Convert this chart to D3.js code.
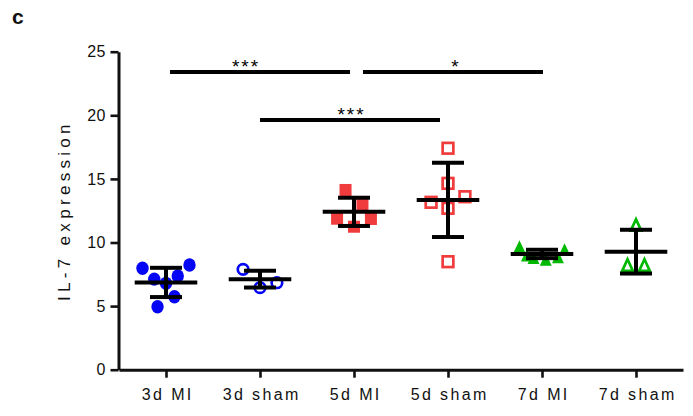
<!DOCTYPE html>
<html>
<head>
<meta charset="utf-8">
<script src="https://cdn.jsdelivr.net/npm/d3@7"></script>
<style>
  html, body { margin: 0; padding: 0; background: #fff; }
  svg { display: block; }
  text { font-family: "Liberation Sans", Arial, sans-serif; fill: #111; }
</style>
</head>
<body>
<svg id="chart" width="693" height="416"></svg>
<script>
// Groups on the x axis
const categories = ["3d MI", "3d sham", "5d MI", "5d sham", "7d MI", "7d sham"];

// Individual IL-7 expression values per group
const values3dMI   = [7.97, 8.23, 7.12, 7.37, 6.79, 5.74, 4.95];
const values3dSham = [7.89, 6.45, 6.84];
const values5dMI   = [14.13, 13.00, 11.87, 11.85, 11.24];
const values5dSham = [17.41, 14.65, 13.60, 13.16, 12.69, 8.49];
const values7dMI   = [9.69, 9.45, 9.00, 8.80, 8.65, 8.85];
const values7dSham = [11.38, 8.23, 8.23];

// Horizontal scatter of each point, as a fraction of the category step
const spread3dMI   = [-0.25, 0.25, -0.125, 0.125, 0, 0.09, -0.09];
const spread3dSham = [-0.18, 0, 0.18];
const spread5dMI   = [-0.09, 0.09, -0.18, 0.18, 0];
const spread5dSham = [0, 0, 0.18, -0.18, 0, 0];
const spread7dMI   = [-0.24, 0.24, -0.16, -0.09, 0.04, 0.17];
const spread7dSham = [0, -0.09, 0.09];

// Group mean and SD
const means = [6.86, 7.12, 12.41, 13.35, 9.10, 9.28];
const sds   = [1.15, 0.66, 1.11, 2.92, 0.33, 1.72];

// Axis ticks
const yTicks = [0, 5, 10, 15, 20, 25];

// Significance comparisons
const sigFrom   = ["3d MI", "5d MI", "3d sham"];
const sigTo     = ["5d MI", "7d MI", "5d sham"];
const sigLevel  = [23.4, 23.4, 19.63];
const sigLabel  = ["***", "*", "***"];

const groupValues = [values3dMI, values3dSham, values5dMI, values5dSham, values7dMI, values7dSham];
const groupSpread = [spread3dMI, spread3dSham, spread5dMI, spread5dSham, spread7dMI, spread7dSham];

// Marker style per group
const BLUE = "#0505f5", RED = "#f03c3c", GREEN = "#00b900";
const markerStyle = [
  { shape: "circle",   color: BLUE,  filled: true },
  { shape: "circle",   color: BLUE,  filled: false },
  { shape: "square",   color: RED,   filled: true },
  { shape: "square",   color: RED,   filled: false },
  { shape: "triangle", color: GREEN, filled: true },
  { shape: "triangle", color: GREEN, filled: false }
];

const svg = d3.select("#chart");

const x = d3.scalePoint().domain(categories).range([119, 683]).padding(0.5);
const y = d3.scaleLinear().domain([0, 25]).range([369.7, 51.7]);
const step = x.step();

// Panel letter
svg.append("text")
  .attr("x", 12).attr("y", 24)
  .style("font-size", "21px").style("font-weight", "bold")
  .text("c");

// Y axis
const yAxis = svg.append("g")
  .attr("transform", "translate(118.5,0)")
  .call(d3.axisLeft(y).tickValues(yTicks).tickSize(8).tickSizeOuter(0).tickPadding(5));
yAxis.select(".domain").attr("stroke", "#111").attr("stroke-width", 3);
yAxis.selectAll(".tick line").attr("stroke", "#111").attr("stroke-width", 2.6);
yAxis.selectAll(".tick text")
  .style("font-size", "16px").style("letter-spacing", "0.5px")
  .attr("fill", "#111").attr("dx", "0.5");

// X axis
const xAxis = svg.append("g")
  .attr("transform", `translate(0,${y(0)})`)
  .call(d3.axisBottom(x).tickSize(8).tickSizeOuter(0).tickPadding(11));
xAxis.select(".domain").attr("stroke", "#111").attr("stroke-width", 3);
xAxis.selectAll(".tick line").attr("stroke", "#111").attr("stroke-width", 2.6);
xAxis.selectAll(".tick text")
  .style("font-size", "16px").style("letter-spacing", "2.4px")
  .attr("fill", "#111").attr("dx", "1.2");

// Y axis title
svg.append("text")
  .attr("transform", `translate(70,${(y(0) + y(25)) / 2 + 2}) rotate(-90)`)
  .attr("text-anchor", "middle")
  .style("font-size", "17px").style("letter-spacing", "4.3px")
  .attr("dx", "2.15")
  .text("IL-7 expression");

// Marker drawing
function drawMarker(g, style, cx, cy) {
  const fill = style.filled ? style.color : "none";
  const stroke = style.filled ? "none" : style.color;
  const sw = style.filled ? 0 : 2.7;
  if (style.shape === "circle") {
    const rx = style.filled ? 6.2 : 5.3, ry = style.filled ? 6.7 : 5.3;
    g.append("ellipse").attr("cx", cx).attr("cy", cy).attr("rx", rx).attr("ry", ry)
      .attr("fill", fill).attr("stroke", stroke).attr("stroke-width", sw);
  } else if (style.shape === "square") {
    const s = style.filled ? 12 : 10.7;
    g.append("rect").attr("x", cx - s / 2).attr("y", cy - s / 2).attr("width", s).attr("height", s)
      .attr("fill", fill).attr("stroke", stroke).attr("stroke-width", sw);
  } else {
    const w = style.filled ? 12 : 10.5, h = style.filled ? 12.4 : 11.5;
    const p = d3.path();
    p.moveTo(cx, cy - h / 2);
    p.lineTo(cx + w / 2, cy + h / 2);
    p.lineTo(cx - w / 2, cy + h / 2);
    p.closePath();
    g.append("path").attr("d", p.toString())
      .attr("fill", fill).attr("stroke", stroke).attr("stroke-width", sw)
      .attr("stroke-linejoin", "miter");
  }
}

const pts = svg.append("g");
categories.forEach((c, i) => {
  groupValues[i].forEach((v, j) => {
    drawMarker(pts, markerStyle[i], x(c) + groupSpread[i][j] * step, y(v));
  });
});

// Mean ± SD bars
const meanHalf = 31.3, capHalf = 16, lw = 4;
const eb = svg.append("g").attr("stroke", "#000").attr("stroke-width", lw);
categories.forEach((c, i) => {
  const cx = x(c);
  const yTop = y(means[i] + sds[i]), yBot = y(means[i] - sds[i]), yMid = y(means[i]);
  eb.append("line").attr("x1", cx).attr("x2", cx).attr("y1", yTop).attr("y2", yBot);
  eb.append("line").attr("x1", cx - capHalf).attr("x2", cx + capHalf).attr("y1", yTop).attr("y2", yTop);
  eb.append("line").attr("x1", cx - capHalf).attr("x2", cx + capHalf).attr("y1", yBot).attr("y2", yBot);
  eb.append("line").attr("x1", cx - meanHalf).attr("x2", cx + meanHalf).attr("y1", yMid).attr("y2", yMid);
});

// Significance brackets
const barInset = [[4, 4], [9, -1], [0, 8]];
const starShift = [-15, 2, 0.5];
const sig = svg.append("g");
sigFrom.forEach((a, i) => {
  const x1 = x(a) + barInset[i][0];
  const x2 = x(sigTo[i]) - barInset[i][1];
  const yy = y(sigLevel[i]);
  sig.append("line").attr("x1", x1).attr("x2", x2).attr("y1", yy).attr("y2", yy)
    .attr("stroke", "#000").attr("stroke-width", 4);
  sig.append("text")
    .attr("x", (x1 + x2) / 2 + starShift[i] + 1).attr("y", yy + 1)
    .attr("text-anchor", "middle")
    .style("font-size", "19px").style("letter-spacing", "2px")
    .style("fill", "#000")
    .text(sigLabel[i]);
});
</script>
</body>
</html>
